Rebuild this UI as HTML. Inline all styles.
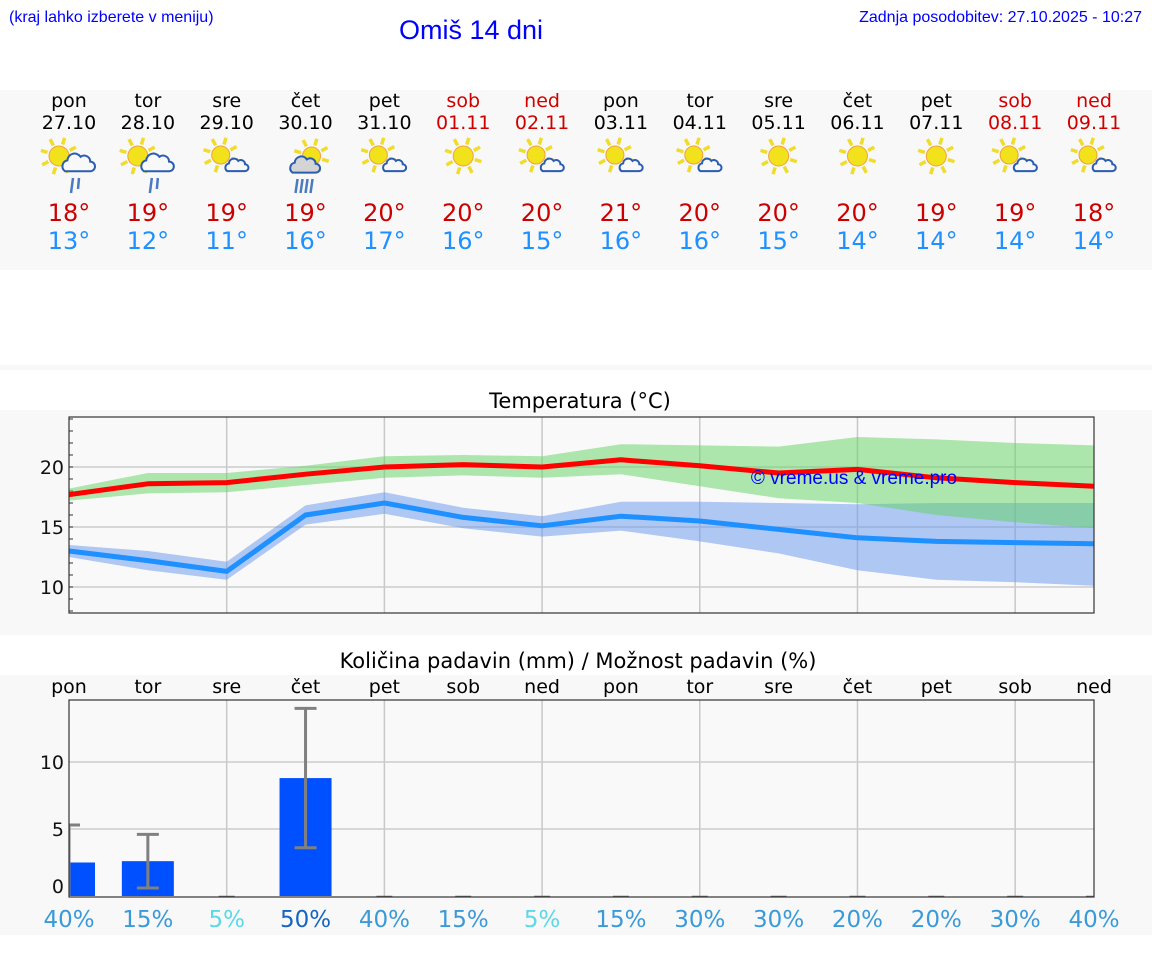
<!DOCTYPE html>
<html><head><meta charset="utf-8"><style>
html,body{margin:0;padding:0;background:#fff;width:1152px;height:975px;overflow:hidden}
svg{display:block;font-family:"DejaVu Sans","Liberation Sans",sans-serif}
</style></head><body>
<svg id="page" width="1152" height="975" viewBox="0 0 1152 975">
<rect x="0" y="90" width="1152" height="180" fill="#f8f8f8"/>
<rect x="0" y="365" width="1152" height="5" fill="#f8f8f8"/>
<rect x="0" y="410" width="1152" height="225" fill="#f8f8f8"/>
<rect x="0" y="675" width="1152" height="260" fill="#f8f8f8"/>
<text x="9" y="22" font-family="Liberation Sans,sans-serif" font-size="16" fill="#0000ff">(kraj lahko izberete v meniju)</text>
<text x="471" y="39" text-anchor="middle" font-family="Liberation Sans,sans-serif" font-size="27" fill="#0000ff">Omiš 14 dni</text>
<text x="1142" y="22" text-anchor="end" font-family="Liberation Sans,sans-serif" font-size="16" fill="#0000ff">Zadnja posodobitev: 27.10.2025 - 10:27</text>
<g id="header"></g>
<text x="580" y="408" text-anchor="middle" font-size="21" fill="#000">Temperatura (°C)</text>
<g id="temp"></g>
<text x="578" y="668" text-anchor="middle" font-size="21" fill="#000">Količina padavin (mm) / Možnost padavin (%)</text>
<g id="precip"></g>
</svg>
<script>
const dayNames=["pon","tor","sre","čet","pet","sob","ned","pon","tor","sre","čet","pet","sob","ned"];
const dates=["27.10","28.10","29.10","30.10","31.10","01.11","02.11","03.11","04.11","05.11","06.11","07.11","08.11","09.11"];
const weekend=[0,0,0,0,0,1,1,0,0,0,0,0,1,1];
const icons=["rain","rain","pc","storm","pc","sun","pc","pc","pc","sun","sun","sun","pc","pc"];
const dailyMax=[18,19,19,19,20,20,20,21,20,20,20,19,19,18];
const dailyMin=[13,12,11,16,17,16,15,16,16,15,14,14,14,14];
const tMax=[17.7,18.6,18.7,19.4,20.0,20.2,20.0,20.6,20.1,19.5,19.8,19.1,18.7,18.4];
const tMaxHi=[18.2,19.5,19.5,20.1,20.9,21.0,20.9,21.9,21.8,21.7,22.5,22.3,22.0,21.8];
const tMaxLo=[17.2,17.8,17.9,18.5,19.1,19.3,19.1,19.4,18.4,17.4,17.0,16.0,15.4,14.9];
const tMin=[13.0,12.2,11.3,16.0,17.0,15.8,15.1,15.9,15.5,14.8,14.1,13.8,13.7,13.6];
const tMinHi=[13.5,13.0,12.1,16.8,17.9,16.6,15.9,17.1,17.1,17.0,16.9,17.0,17.0,17.0];
const tMinLo=[12.5,11.4,10.6,15.2,16.1,14.9,14.2,14.7,13.8,12.8,11.4,10.6,10.4,10.1];
const tempTicks=[10,15,20];
const precip=[2.5,2.6,0,8.8,0,0,0,0,0,0,0,0,0,0];
const precipHi=[5.3,4.6,0,14.0,0,0,0,0,0,0,0,0,0,0];
const precipLo=[0,0.6,0,3.6,0,0,0,0,0,0,0,0,0,0];
const chance=[40,15,5,50,40,15,5,15,30,30,20,20,30,40];
const precipTicks=[0,5,10];

const NS="http://www.w3.org/2000/svg";
function el(tag,attrs,parent,txt){const e=document.createElementNS(NS,tag);for(const k in attrs)e.setAttribute(k,attrs[k]);if(txt!==undefined)e.textContent=txt;parent.appendChild(e);return e;}
const X0=69,X1=1094,DW=(X1-X0)/13;
const xd=i=>X0+i*DW;
const yT=v=>467-(v-20)*12;
const yP=v=>896-v*13.4;

const H=document.getElementById('header');
function sun(g,cx,cy,r){
  for(let k=0;k<8;k++){const a=k*Math.PI/4+0.3;
    el('line',{x1:cx+Math.cos(a)*(r+2),y1:cy+Math.sin(a)*(r+2),x2:cx+Math.cos(a)*(r+9),y2:cy+Math.sin(a)*(r+9),stroke:'#f0dc2a','stroke-width':3.5},g);}
  el('circle',{cx:cx,cy:cy,r:r,fill:'#f2e21c',stroke:'#f0a040','stroke-width':1},g);
}
function cloud(g,cx,cy,s,fill){
  const d=`M${cx-10*s} ${cy+6*s} a${5*s} ${5*s} 0 0 1 ${2*s} ${-9*s} a${6*s} ${6*s} 0 0 1 ${11*s} ${-3*s} a${5*s} ${5*s} 0 0 1 ${8*s} ${4*s} a${4*s} ${4*s} 0 0 1 ${0} ${8*s} z`;
  el('path',{d:d,fill:fill,stroke:'#2a5cb0','stroke-width':2},g);
}
for(let i=0;i<14;i++){
  const x=xd(i);
  const g=el('g',{},H);
  
  
  const col=weekend[i]?'#d00000':'#000';
  el('text',{x:x,y:107,'text-anchor':'middle','font-size':19,fill:col},g,dayNames[i]);
  el('text',{x:x,y:129,'text-anchor':'middle','font-size':19,fill:col},g,dates[i]);
  const ic=el('g',{},g);
  
  
  const t=icons[i];
  if(t==='storm'){sun(ic,x+6,156,9);cloud(ic,x-2,166,1.1,'#d4d4d4');
    for(let k=0;k<4;k++)el('line',{x1:x-8+k*5,y1:179,x2:x-10+k*5,y2:193,stroke:'#4a7ac0','stroke-width':2.5},ic);}
  else if(t==='rain'){sun(ic,x-10,156,10);cloud(ic,x+8,164,1.2,'#f8f8f8');
    el('line',{x1:x+4,y1:178,x2:x+2,y2:193,stroke:'#4a7ac0','stroke-width':2.5},ic);
    el('line',{x1:x+10,y1:178,x2:x+9,y2:189,stroke:'#4a7ac0','stroke-width':2.5},ic);}
  else if(t==='pc'){sun(ic,x-6,155,9);cloud(ic,x+9,166,0.85,'#f8f8f8');}
  else{sun(ic,x,156,10);}
  el('text',{x:x,y:221,'text-anchor':'middle','font-size':24,fill:'#cc0000'},g,dailyMax[i]+'°');
  el('text',{x:x,y:249,'text-anchor':'middle','font-size':24,fill:'#1e90ff'},g,dailyMin[i]+'°');
}

const T=document.getElementById('temp');
el('rect',{x:X0,y:417,width:X1-X0,height:196,fill:'#f9f9f9'},T);
for(let i=2;i<13;i+=2)el('line',{x1:xd(i),y1:417,x2:xd(i),y2:613,stroke:'#c8c8c8','stroke-width':1.5},T);
tempTicks.forEach(v=>{el('line',{x1:X0,y1:yT(v),x2:X1,y2:yT(v),stroke:'#cccccc','stroke-width':1.5},T);
  const tl=el('text',{x:X0-5,y:yT(v)+7,'text-anchor':'end','font-size':19,fill:'#111'},T,String(v));
  
  });
for(let v=8;v<=24;v++)el('line',{x1:X0,y1:yT(v),x2:X0+4,y2:yT(v),stroke:'#333','stroke-width':1},T);
function band(hi,lo,fill,op){let d='';hi.forEach((v,i)=>d+=(i?'L':'M')+xd(i)+' '+yT(v));
  for(let i=lo.length-1;i>=0;i--)d+='L'+xd(i)+' '+yT(lo[i]);return el('path',{d:d+'Z',fill:fill,'fill-opacity':op},T);}
function line(vals,col){return el('polyline',{points:vals.map((v,i)=>xd(i)+','+yT(v)).join(' '),fill:'none',stroke:col,'stroke-width':5,'stroke-linejoin':'round'},T);}
const bMin=band(tMinHi,tMinLo,'#6495ed',0.5);


const bMax=band(tMaxHi,tMaxLo,'#5fd35f',0.5);


const lMin=line(tMin,'#1e90ff');


const lMax=line(tMax,'#ff0000');


const wm=el('text',{x:854,y:484,'text-anchor':'middle','font-family':'Liberation Sans,sans-serif','font-size':19,fill:'#0000ff'},T,'© vreme.us & vreme.pro');


el('rect',{x:X0,y:417,width:X1-X0,height:196,fill:'none',stroke:'#333','stroke-width':1.2},T);

const P=document.getElementById('precip');
el('rect',{x:X0,y:700,width:X1-X0,height:197,fill:'#f9f9f9'},P);
for(let i=2;i<14;i+=2)el('line',{x1:xd(i),y1:700,x2:xd(i),y2:897,stroke:'#c8c8c8','stroke-width':1.5},P);
precipTicks.forEach(v=>{if(v>0)el('line',{x1:X0,y1:yP(v),x2:X1,y2:yP(v),stroke:'#cccccc','stroke-width':1.5},P);
  const tl=el('text',{x:X0-5,y:yP(v)+(v?7:-3),'text-anchor':'end','font-size':19,fill:'#111'},P,String(v));
  
  });
const clip=el('clipPath',{id:'pc'},P);el('rect',{x:X0,y:690,width:X1-X0,height:207},clip);
const pg=el('g',{'clip-path':'url(#pc)'},P);
const chanceColor=c=>c>=50?'#1565c0':(c<=5?'#5cd8e8':'#3a9ad9');
for(let i=0;i<14;i++){
  const x=xd(i);
  if(precip[i]>0){const b=el('rect',{x:x-26,y:yP(precip[i]),width:52,height:yP(0)-yP(precip[i]),fill:'#0050ff'},pg);
    
    }
  else{el('line',{x1:x-8,y1:896.5,x2:x+8,y2:896.5,stroke:'#666','stroke-width':1.5},pg);}
  if(precipHi[i]>0){const eb=el('g',{},pg);
    
    
    el('line',{x1:x,y1:yP(precipHi[i]),x2:x,y2:yP(precipLo[i]),stroke:'#808080','stroke-width':3},eb);
    el('line',{x1:x-11,y1:yP(precipHi[i]),x2:x+11,y2:yP(precipHi[i]),stroke:'#808080','stroke-width':3},eb);
    if(precipLo[i]>0||i>0)el('line',{x1:x-11,y1:yP(precipLo[i]),x2:x+11,y2:yP(precipLo[i]),stroke:'#808080','stroke-width':3},eb);}
  const dn=el('text',{x:x,y:693,'text-anchor':'middle','font-size':19,fill:'#000'},P,dayNames[i]);
  
  
  const ct=el('text',{x:x,y:927,'text-anchor':'middle','font-size':23,fill:chanceColor(chance[i])},P,chance[i]+'%');
  
  
}
el('rect',{x:X0,y:700,width:X1-X0,height:197,fill:'none',stroke:'#333','stroke-width':1.2},P);
</script>
</body></html>
